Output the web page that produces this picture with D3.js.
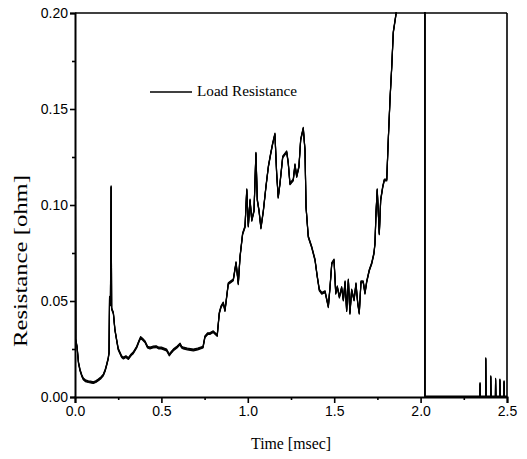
<!DOCTYPE html>
<html>
<head>
<meta charset="utf-8">
<script src="https://cdn.jsdelivr.net/npm/d3@7"></script>
<style>
  html, body { margin: 0; padding: 0; background: #fff; }
  svg { display: block; }
</style>
</head>
<body>
<svg id="chart" width="527" height="459"></svg>
<script>
// ---- data ----
const timeMs = [
  0.000, 0.002, 0.004, 0.012, 0.020, 0.029, 0.040, 0.048, 0.060, 0.077, 0.090, 0.106, 0.120, 0.135, 0.150,
  0.164, 0.175, 0.183, 0.192, 0.197, 0.200, 0.205, 0.209, 0.212, 0.222, 0.231, 0.241, 0.250, 0.260, 0.270,
  0.280, 0.295, 0.309, 0.325, 0.337, 0.357, 0.370, 0.380, 0.392, 0.405, 0.420, 0.434, 0.450, 0.470, 0.485,
  0.500, 0.515, 0.530, 0.546, 0.555, 0.569, 0.590, 0.608, 0.617, 0.627, 0.650, 0.685, 0.710, 0.741, 0.752,
  0.768, 0.780, 0.800, 0.823, 0.835, 0.845, 0.858, 0.868, 0.887, 0.916, 0.932, 0.945, 0.955, 0.970, 0.984,
  0.994, 1.003, 1.013, 1.023, 1.036, 1.047, 1.055, 1.065, 1.076, 1.090, 1.105, 1.119, 1.133, 1.144, 1.157,
  1.167, 1.176, 1.186, 1.202, 1.225, 1.234, 1.244, 1.263, 1.273, 1.283, 1.296, 1.306, 1.321, 1.331, 1.337,
  1.350, 1.370, 1.389, 1.402, 1.414, 1.428, 1.447, 1.466, 1.476, 1.486, 1.499, 1.509, 1.518, 1.530, 1.543,
  1.553, 1.563, 1.572, 1.582, 1.591, 1.601, 1.615, 1.626, 1.636, 1.645, 1.655, 1.668, 1.678, 1.688, 1.703,
  1.717, 1.730, 1.736, 1.742, 1.749, 1.761, 1.769, 1.781, 1.790, 1.804, 1.813, 1.823, 1.833, 1.842, 1.852,
  1.862, 1.880, 1.950, 2.025, 2.025, 2.343, 2.344, 2.346, 2.376, 2.377, 2.379,
  2.405, 2.406, 2.408, 2.433, 2.434, 2.436, 2.458, 2.459, 2.461, 2.482, 2.483, 2.485, 2.500
];
const resistanceOhm = [
  0.168, 0.140, 0.030, 0.026, 0.018, 0.014, 0.011, 0.0094, 0.0085, 0.008, 0.0078, 0.0075, 0.008, 0.0089, 0.010,
  0.0115, 0.014, 0.0167, 0.020, 0.023, 0.052, 0.048, 0.1095, 0.046, 0.0437, 0.035, 0.0297, 0.025, 0.023, 0.021,
  0.0203, 0.021, 0.020, 0.022, 0.023, 0.026, 0.029, 0.031, 0.030, 0.0288, 0.026, 0.0255, 0.026, 0.0262, 0.0255,
  0.0255, 0.025, 0.0245, 0.0219, 0.023, 0.0245, 0.026, 0.0276, 0.026, 0.0255, 0.025, 0.0245, 0.025, 0.026, 0.0314,
  0.033, 0.033, 0.034, 0.032, 0.0437, 0.047, 0.049, 0.045, 0.059, 0.061, 0.070, 0.059, 0.073, 0.085, 0.0887,
  0.108, 0.089, 0.1026, 0.092, 0.097, 0.127, 0.1026, 0.097, 0.088, 0.097, 0.1095, 0.120, 0.127, 0.132, 0.137,
  0.1165, 0.104, 0.111, 0.125, 0.1277, 0.122, 0.111, 0.113, 0.121, 0.1148, 0.120, 0.134, 0.140, 0.1286, 0.099,
  0.0835, 0.078, 0.0714, 0.0627, 0.0557, 0.054, 0.0549, 0.047, 0.0574, 0.0696, 0.0714, 0.054, 0.0574, 0.052, 0.057,
  0.0505, 0.060, 0.045, 0.061, 0.0436, 0.0557, 0.0505, 0.059, 0.049, 0.0436, 0.060, 0.060, 0.054, 0.060, 0.066,
  0.0696, 0.0748, 0.080, 0.096, 0.108, 0.085, 0.1026, 0.1095, 0.113, 0.113, 0.134, 0.155, 0.172, 0.190, 0.196,
  0.202, 0.230, 0.250, 0.250, 0.000, 0.000, 0.007, 0.000, 0.000, 0.020, 0.000,
  0.000, 0.0106, 0.000, 0.000, 0.0092, 0.000, 0.000, 0.0089, 0.000, 0.000, 0.008, 0.000, 0.000
];
const xTickValues = [0.0, 0.5, 1.0, 1.5, 2.0, 2.5];
const xTickLabels = ["0.0", "0.5", "1.0", "1.5", "2.0", "2.5"];
const xMinorValues = [0.25, 0.75, 1.25, 1.75, 2.25];
const yTickValues = [0.00, 0.05, 0.10, 0.15, 0.20];
const yTickLabels = ["0.00", "0.05", "0.10", "0.15", "0.20"];
const yMinorValues = [0.025, 0.075, 0.125, 0.175];
const seriesName = "Load Resistance";
const xTitle = "Time [msec]";
const yTitle = "Resistance [ohm]";

// ---- layout ----
const margin = { left: 75, top: 13, right: 20, bottom: 62 };
const W = 527, H = 459;
const pw = W - margin.left - margin.right;   // 432
const ph = H - margin.top - margin.bottom;   // 384

const svg = d3.select("#chart");
const g = svg.append("g").attr("transform", `translate(${margin.left},${margin.top})`);

const x = d3.scaleLinear().domain([0, 2.5]).range([0, pw]);
const y = d3.scaleLinear().domain([0, 0.20]).range([ph, 0]);

svg.append("defs").append("clipPath").attr("id", "plotclip")
  .append("rect").attr("x", 0).attr("y", -1).attr("width", pw).attr("height", ph + 2);

const data = timeMs.map((t, i) => ({ t, r: resistanceOhm[i] }));

// frame (top and right)
g.append("line").attr("x1", 0).attr("x2", pw).attr("y1", 0).attr("y2", 0)
  .attr("stroke", "#000").attr("stroke-width", 1.6);
g.append("line").attr("x1", pw).attr("x2", pw).attr("y1", 0).attr("y2", ph)
  .attr("stroke", "#000").attr("stroke-width", 1.6);

// data line: drawn with a slightly "flat pen" (vertical offsets) so that
// near-horizontal strokes are heavier than vertical ones, as in the scan
const lineGen = d3.line().x(d => x(d.t)).y(d => y(d.r));
const lineG = g.append("g").attr("clip-path", "url(#plotclip)");
[-0.9, -0.3, 0.3, 0.9].forEach(dy => {
  lineG.append("path")
    .datum(data)
    .attr("transform", `translate(0,${dy})`)
    .attr("fill", "none")
    .attr("stroke", "#000")
    .attr("stroke-width", 1.15)
    .attr("stroke-linejoin", "round")
    .attr("d", lineGen);
});

// axes
const tickFont = "'Liberation Sans', Arial, sans-serif";
const serif = "'Liberation Serif', 'Times New Roman', serif";

const xAxis = g.append("g").attr("transform", `translate(0,${ph})`)
  .call(d3.axisBottom(x).tickValues(xTickValues).tickFormat((d, i) => xTickLabels[i]).tickSize(6).tickPadding(3));
const xMinor = g.append("g").attr("transform", `translate(0,${ph})`)
  .call(d3.axisBottom(x).tickValues(xMinorValues).tickFormat("").tickSize(3));
const yAxis = g.append("g")
  .call(d3.axisLeft(y).tickValues(yTickValues).tickFormat((d, i) => yTickLabels[i]).tickSize(5).tickPadding(2));
const yMinor = g.append("g")
  .call(d3.axisLeft(y).tickValues(yMinorValues).tickFormat("").tickSize(3));

[xAxis, xMinor, yAxis, yMinor].forEach(a => {
  a.select(".domain").attr("stroke", "#000").attr("stroke-width", 2);
  a.selectAll(".tick line").attr("stroke", "#000").attr("stroke-width", 1.6);
  a.selectAll(".tick text").attr("fill", "#000").style("font-family", tickFont).style("font-size", "14px");
});
xMinor.select(".domain").remove();
yMinor.select(".domain").remove();
yAxis.selectAll(".tick text").attr("dy", "0.35em");

// axis titles
svg.append("text")
  .attr("x", margin.left + x(1.25)).attr("y", 449)
  .attr("text-anchor", "middle")
  .style("font-family", serif).style("font-size", "17px")
  .attr("textLength", 80).attr("lengthAdjust", "spacingAndGlyphs")
  .text(xTitle);

svg.append("text")
  .attr("transform", `translate(27,${261}) rotate(-90)`)
  .attr("text-anchor", "middle")
  .style("font-family", serif).style("font-size", "18px")
  .attr("textLength", 172).attr("lengthAdjust", "spacingAndGlyphs")
  .text(yTitle);

// legend
const lg = svg.append("g");
lg.append("line").attr("x1", 150).attr("x2", 192).attr("y1", 92).attr("y2", 92)
  .attr("stroke", "#000").attr("stroke-width", 1.6);
lg.append("text").attr("x", 197).attr("y", 96)
  .style("font-family", serif).style("font-size", "15px")
  .attr("textLength", 100).attr("lengthAdjust", "spacingAndGlyphs")
  .text(seriesName);
</script>
</body>
</html>
